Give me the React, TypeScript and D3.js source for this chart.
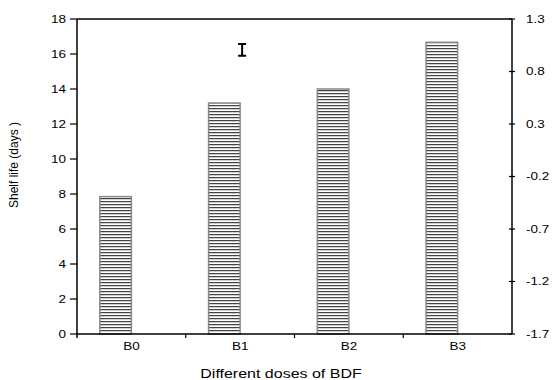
import React from "react";
import * as d3 from "d3";

const categories = ["B0", "B1", "B2", "B3"];
const shelfLife = [7.85, 13.2, 14.0, 16.67];
const leftTicks = [0, 2, 4, 6, 8, 10, 12, 14, 16, 18];
const rightTicks = [-1.7, -1.2, -0.7, -0.2, 0.3, 0.8, 1.3];
const errorBar = { category: "B1", low: 15.9, high: 16.57 };

const W = 556;
const H = 380;
const M = { left: 77, right: 44, top: 19, bottom: 46 };
const SX = 1.35;

function SText(props: {
  x: number;
  y: number;
  anchor: "start" | "middle" | "end";
  size: number;
  sx?: number;
  children: React.ReactNode;
}) {
  const s = props.sx ?? SX;
  return (
    <text
      transform={`translate(${props.x},${props.y}) scale(${s},1)`}
      textAnchor={props.anchor}
      fontSize={props.size}
      fontFamily="'Liberation Sans', Arial, sans-serif"
      fill="#000"
    >
      {props.children}
    </text>
  );
}

export default function App() {
  const x = d3
    .scaleBand<string>()
    .domain(categories)
    .range([M.left, W - M.right])
    .paddingInner(0)
    .paddingOuter(0);
  const y = d3.scaleLinear().domain([0, 18]).range([H - M.bottom, M.top]);
  const y2 = d3.scaleLinear().domain([-1.7, 1.3]).range([H - M.bottom, M.top]);
  const fmt = (v: number) => d3.format(".1f")(v).replace("\u2212", "-");
  const barW = x.bandwidth() * 0.29;
  const x0 = M.left;
  const x1 = W - M.right;
  const yb = H - M.bottom;
  const font = "'Liberation Sans', Arial, sans-serif";
  const bandEdges = categories.slice(1).map((c) => x(c) as number);
  const ebX = (x(errorBar.category) as number) + x.bandwidth() / 2 + 2;

  return (
    <svg width={W} height={H} style={{ position: "absolute", left: 0, top: 0 }}>
      <defs>
        <pattern id="hstripe" width="4" height="3" patternUnits="userSpaceOnUse">
          <rect x="0" y="0" width="4" height="3" fill="#d0d0d0" />
          <rect x="0" y="0" width="4" height="1" fill="#444" />
          <rect x="0" y="2" width="4" height="1" fill="#fff" />
        </pattern>
      </defs>
      <rect width={W} height={H} fill="#fff" />
      {categories.map((c, i) => {
        const cx = (x(c) as number) + x.bandwidth() / 2;
        return (
          <rect
            key={c}
            x={cx - barW}
            y={y(shelfLife[i])}
            width={barW}
            height={yb - y(shelfLife[i])}
            fill="url(#hstripe)"
            stroke="#888"
            strokeWidth={1.5}
          />
        );
      })}
      {/* error bar */}
      <g stroke="#000" strokeWidth={2}>
        <line x1={ebX} x2={ebX} y1={y(errorBar.low)} y2={y(errorBar.high)} />
        <line x1={ebX - 4} x2={ebX + 4} y1={y(errorBar.low)} y2={y(errorBar.low)} />
        <line x1={ebX - 4} x2={ebX + 4} y1={y(errorBar.high)} y2={y(errorBar.high)} />
      </g>
      {/* frame */}
      <g stroke="#000" strokeWidth={1.5} fill="none">
        <line x1={x0} x2={x0} y1={M.top} y2={yb + 4} />
        <line x1={x0 - 1} x2={x1} y1={yb} y2={yb} />
        <line x1={x0} x2={x1} y1={M.top} y2={M.top} />
        <line x1={x1} x2={x1} y1={M.top} y2={yb} />
      </g>
      {/* left ticks */}
      {leftTicks.map((t) => (
        <g key={"l" + t}>
          <line x1={x0 - 7} x2={x0} y1={y(t)} y2={y(t)} stroke="#000" strokeWidth={1.2} />
          <SText x={x0 - 11} y={y(t) + 3.5} anchor="end" size={10}>
            {t}
          </SText>
        </g>
      ))}
      {/* right ticks */}
      {rightTicks.map((t) => (
        <g key={"r" + t}>
          <line x1={x1 - 3} x2={x1 + 3} y1={y2(t)} y2={y2(t)} stroke="#000" strokeWidth={1.2} />
          <SText x={x1 + 14} y={y2(t) + 3.5} anchor="start" size={10}>
            {fmt(t)}
          </SText>
        </g>
      ))}
      {/* bottom ticks */}
      {bandEdges.map((e, i) => (
        <line key={"b" + i} x1={e} x2={e} y1={yb} y2={yb + 4} stroke="#000" strokeWidth={1.2} />
      ))}
      {categories.map((c) => (
        <SText key={"c" + c} x={(x(c) as number) + x.bandwidth() / 2} y={yb + 16} anchor="middle" size={10}>
          {c}
        </SText>
      ))}
      <SText x={281} y={378} anchor="middle" size={12.5} sx={1.28}>
        Different doses of BDF
      </SText>
      <text
        transform={`translate(18,${165}) rotate(-90)`}
        textAnchor="middle"
        fontSize={12}
        fontFamily={font}
        fill="#000"
      >
        Shelf life (days )
      </text>
    </svg>
  );
}
